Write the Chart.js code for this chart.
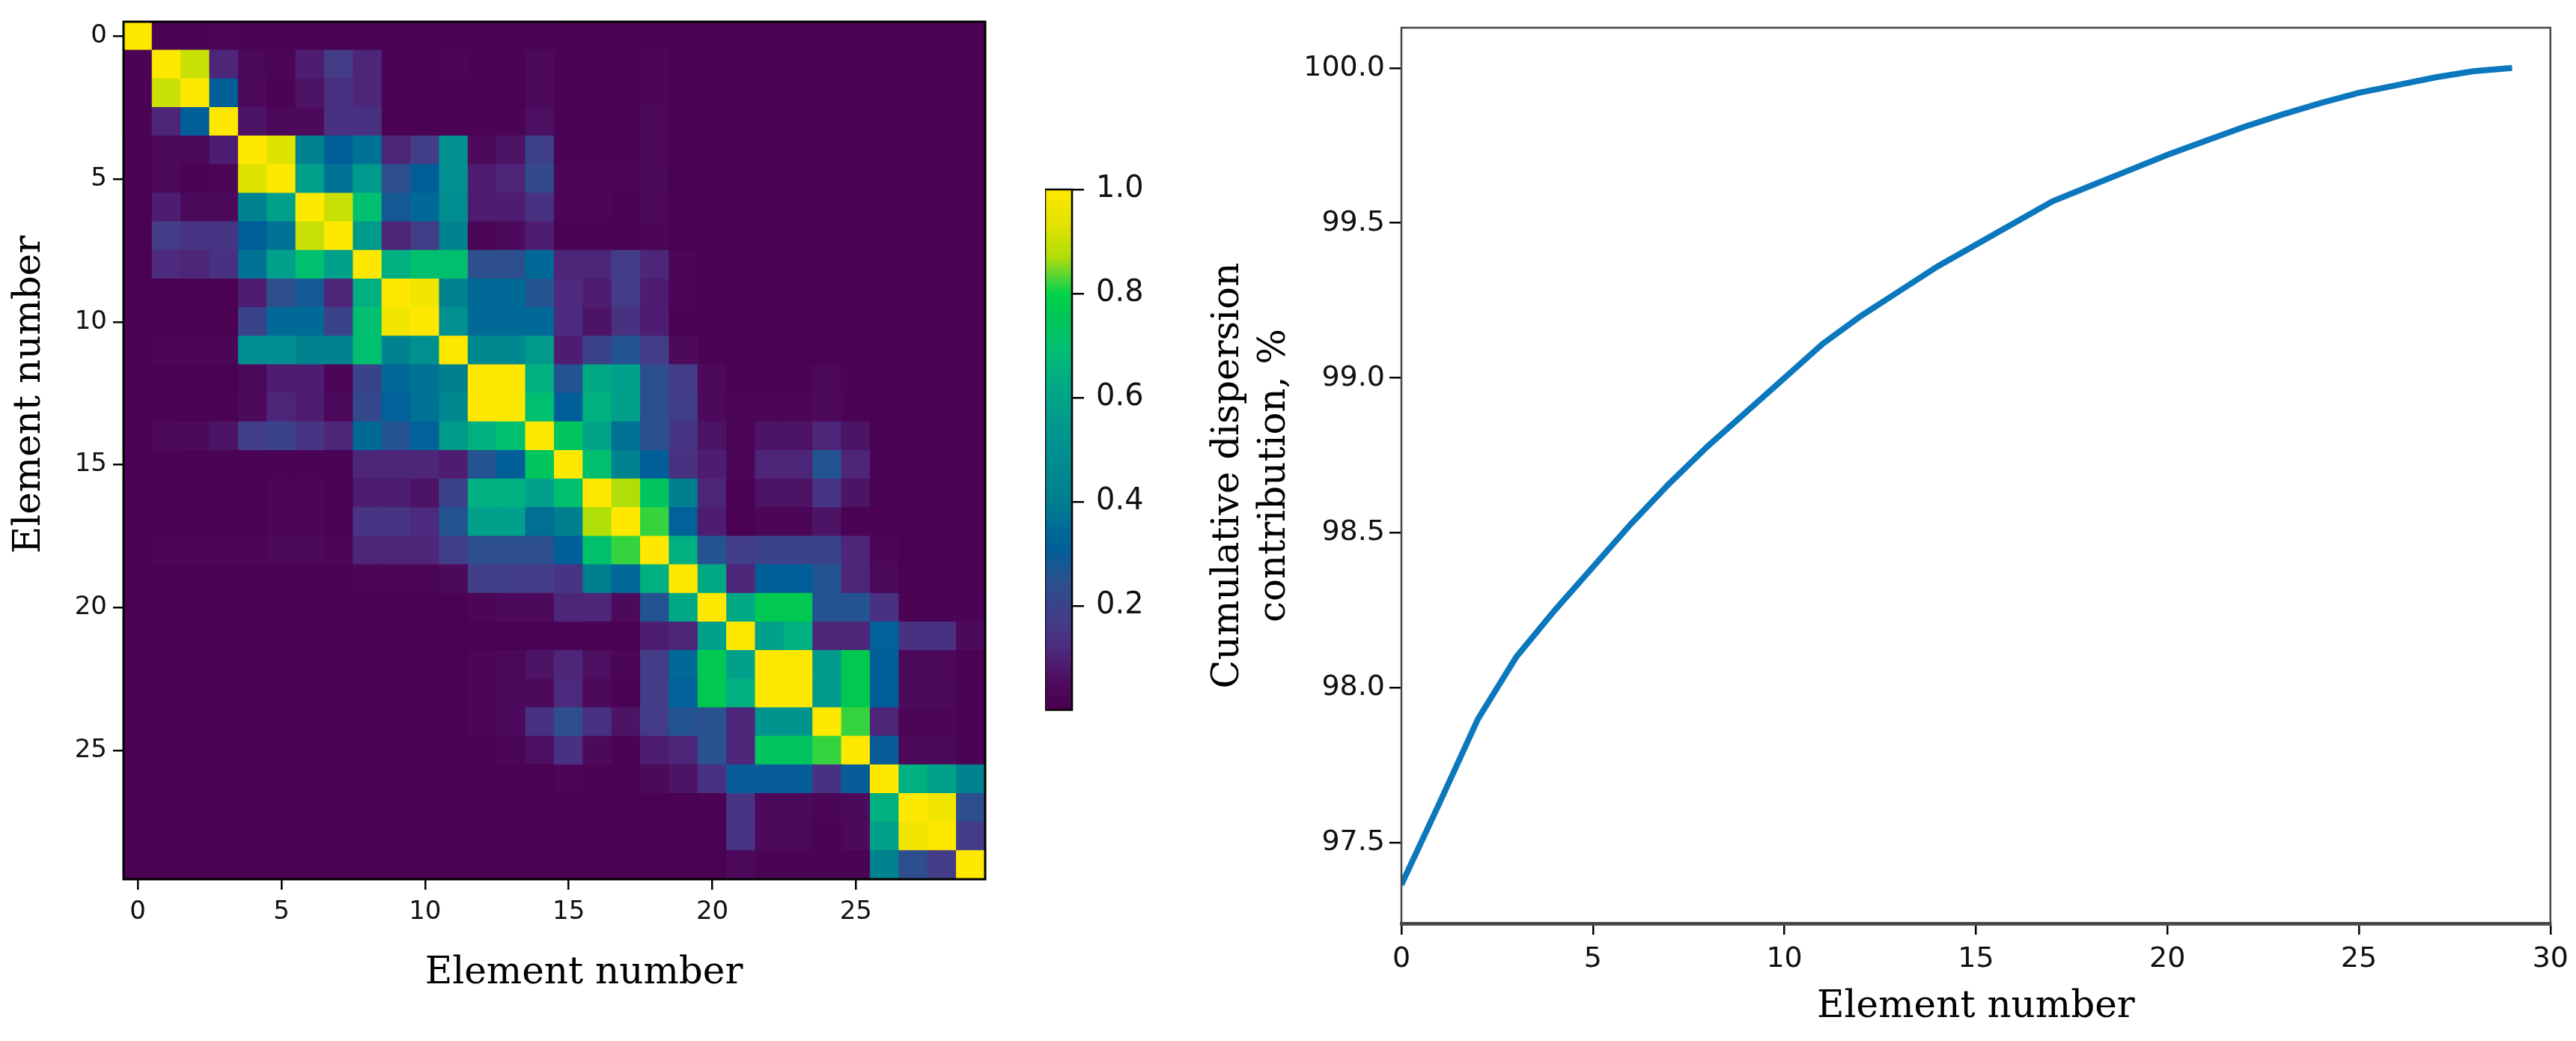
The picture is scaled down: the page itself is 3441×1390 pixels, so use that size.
<!DOCTYPE html>
<html>
<head>
<meta charset="utf-8">
<title>Correlation heatmap and cumulative dispersion</title>
<script src="https://cdn.jsdelivr.net/npm/chart.js@4.4.1/dist/chart.umd.min.js"></script>
<style>
  html, body { margin: 0; padding: 0; background: #fff; }
  body { width: 3441px; height: 1390px; position: relative; overflow: hidden; }
  .box { position: absolute; }
  #heatBox { left: 0; top: 0; width: 1330px; height: 1390px; }
  #barBox { left: 1396px; top: 213px; width: 200px; height: 775px; }
  #lineBox { left: 1600px; top: 0; width: 1841px; height: 1390px; }
</style>
</head>
<body>
<div class="box" id="heatBox"><canvas id="heatmap"></canvas></div>
<div class="box" id="barBox"><canvas id="colorbar"></canvas></div>
<div class="box" id="lineBox"><canvas id="cumulative"></canvas></div>
<script>
// element numbers (rows / columns of the matrix, x of the curve)
const elementIdx = [0, 1, 2, 3, 4, 5, 6, 7, 8, 9, 10, 11, 12, 13, 14, 15, 16, 17, 18, 19,
                    20, 21, 22, 23, 24, 25, 26, 27, 28, 29];

// correlation matrix, one row per element
const corr = [
  [1, .02, .02, .03, .02, .02, .02, .02, .02, .02, .02, .02, .02, .02, .02, .01, .01, .01, .01, .01, .01, .01, .01, .01, .01, .01, .01, .01, .01, .01],
  [.02, 1, .9, .11, .04, .03, .09, .17, .11, .02, .02, .03, .02, .02, .04, .02, .01, .01, .03, .01, .01, .01, .01, .01, .01, .01, .01, .01, .01, .01],
  [.02, .9, 1, .31, .04, .02, .07, .14, .11, .02, .02, .02, .01, .01, .04, .02, .01, .01, .03, .01, .01, .01, .01, .01, .01, .01, .01, .01, .01, .01],
  [.02, .11, .31, 1, .07, .04, .05, .14, .14, .02, .02, .02, .02, .02, .06, .02, .01, .01, .04, .01, .01, .01, .01, .01, .01, .01, .01, .01, .01, .01],
  [.01, .04, .04, .09, 1, .93, .42, .31, .37, .11, .18, .5, .05, .07, .19, .02, .02, .02, .04, .01, .01, .01, .01, .01, .01, .01, .01, .01, .01, .01],
  [.01, .04, .02, .03, .93, 1, .58, .37, .55, .24, .31, .5, .09, .11, .22, .03, .03, .03, .05, .01, .01, .01, .01, .01, .01, .01, .01, .01, .01, .01],
  [.01, .09, .04, .04, .42, .58, 1, .9, .7, .28, .34, .48, .09, .09, .14, .03, .03, .02, .04, .01, .01, .01, .01, .01, .01, .01, .01, .01, .01, .01],
  [.01, .17, .15, .15, .31, .37, .9, 1, .55, .11, .18, .42, .03, .05, .09, .02, .02, .01, .03, .01, .01, .01, .01, .01, .01, .01, .01, .01, .01, .01],
  [.01, .12, .11, .14, .37, .58, .7, .58, 1, .65, .7, .7, .24, .24, .34, .11, .11, .17, .11, .03, .01, .01, .01, .01, .01, .01, .01, .01, .01, .01],
  [.01, .01, .01, .01, .09, .24, .28, .11, .65, 1, .97, .42, .34, .34, .26, .12, .09, .17, .09, .03, .01, .01, .01, .01, .01, .01, .01, .01, .01, .01],
  [.01, .01, .01, .01, .2, .34, .34, .2, .7, .97, 1, .5, .34, .34, .34, .12, .07, .14, .09, .02, .01, .01, .01, .01, .01, .01, .01, .01, .01, .01],
  [.01, .03, .03, .03, .48, .48, .42, .42, .7, .42, .5, 1, .45, .45, .55, .09, .2, .26, .17, .05, .02, .01, .01, .01, .01, .01, .01, .01, .01, .01],
  [.01, .01, .01, .01, .04, .09, .09, .03, .2, .34, .37, .4, 1, 1, .65, .26, .62, .58, .24, .17, .05, .02, .02, .02, .04, .02, .01, .01, .01, .01],
  [.01, .01, .01, .01, .05, .11, .09, .04, .22, .32, .37, .45, 1, 1, .7, .31, .65, .58, .24, .18, .05, .03, .03, .03, .05, .02, .01, .01, .01, .01],
  [.01, .04, .05, .07, .18, .2, .15, .11, .34, .26, .32, .55, .65, .7, 1, .74, .6, .37, .24, .15, .07, .03, .07, .07, .11, .07, .02, .01, .01, .01],
  [.02, .02, .02, .02, .02, .02, .02, .02, .11, .11, .11, .09, .26, .31, .74, 1, .7, .42, .31, .14, .09, .03, .11, .11, .26, .11, .02, .01, .01, .01],
  [.01, .01, .01, .01, .01, .03, .03, .01, .09, .09, .07, .2, .65, .65, .58, .7, 1, .87, .74, .4, .11, .01, .07, .07, .15, .07, .02, .01, .01, .01],
  [.01, .01, .01, .01, .01, .03, .03, .02, .15, .15, .12, .26, .58, .58, .36, .4, .87, 1, .82, .32, .09, .01, .03, .03, .07, .02, .01, .01, .01, .01],
  [.01, .03, .03, .03, .03, .04, .05, .03, .11, .11, .11, .18, .24, .24, .24, .31, .71, .82, 1, .65, .26, .18, .2, .2, .2, .11, .03, .01, .01, .01],
  [.01, .01, .01, .01, .01, .01, .01, .01, .03, .03, .03, .05, .18, .18, .17, .15, .4, .34, .65, 1, .62, .11, .31, .31, .26, .11, .04, .01, .01, .01],
  [.01, .01, .01, .01, .01, .01, .01, .01, .01, .01, .01, .01, .03, .05, .05, .11, .11, .05, .26, .62, 1, .62, .77, .77, .26, .26, .14, .02, .02, .02],
  [.01, .01, .01, .01, .01, .01, .01, .01, .01, .01, .01, .01, .01, .01, .01, .02, .01, .01, .09, .11, .58, 1, .58, .65, .11, .11, .32, .14, .14, .04],
  [.01, .01, .01, .01, .01, .01, .01, .01, .01, .01, .01, .01, .03, .04, .07, .11, .06, .03, .17, .34, .77, .58, 1, 1, .55, .77, .31, .04, .04, .01],
  [.01, .01, .01, .01, .01, .01, .01, .01, .01, .01, .01, .01, .03, .04, .05, .12, .04, .02, .17, .32, .77, .65, 1, 1, .55, .77, .31, .05, .05, .02],
  [.01, .01, .01, .01, .01, .01, .01, .01, .01, .01, .01, .01, .03, .05, .14, .24, .14, .07, .17, .26, .25, .11, .52, .52, 1, .82, .11, .03, .03, .02],
  [.01, .01, .01, .01, .01, .01, .01, .01, .01, .01, .01, .01, .02, .03, .06, .14, .05, .02, .09, .11, .25, .11, .74, .74, .82, 1, .3, .04, .04, .02],
  [.01, .01, .01, .01, .01, .01, .01, .01, .01, .01, .01, .01, .01, .01, .01, .03, .02, .02, .05, .07, .14, .3, .3, .3, .14, .3, 1, .65, .58, .42],
  [.01, .01, .01, .01, .01, .01, .01, .01, .01, .01, .01, .01, .01, .01, .01, .01, .01, .01, .01, .01, .02, .15, .04, .04, .03, .05, .65, 1, .97, .24],
  [.01, .01, .01, .01, .01, .01, .01, .01, .01, .01, .01, .01, .01, .01, .01, .01, .01, .01, .01, .01, .02, .15, .04, .04, .02, .05, .58, .97, 1, .17],
  [.01, .01, .01, .01, .01, .01, .01, .01, .01, .01, .01, .01, .01, .01, .01, .01, .01, .01, .01, .01, .01, .04, .02, .02, .02, .02, .42, .24, .17, 1]
];

// cumulative dispersion contribution, %
const cumulative = [97.365, 97.63, 97.9, 98.1, 98.25, 98.39, 98.53, 98.66, 98.78, 98.89,
                    99.0, 99.11, 99.2, 99.28, 99.36, 99.43, 99.5, 99.57, 99.62, 99.67,
                    99.72, 99.765, 99.81, 99.85, 99.887, 99.92, 99.945, 99.97, 99.99, 100.0];

// ticks and ranges
const heatTicks = [0, 5, 10, 15, 20, 25];
const colorRange = [0, 1];
const colorbarTicks = [0.2, 0.4, 0.6, 0.8, 1.0];
const cumXTicks = [0, 5, 10, 15, 20, 25, 30];
const cumYTicks = [97.5, 98.0, 98.5, 99.0, 99.5, 100.0];
const cumYRange = [97.24, 100.13];

// colour scale as it looks in the picture's colorbar
const cmapStops = [
  [0, '#4a0050'], [0.05, '#4d0a5c'], [0.1, '#4e2276'], [0.12, '#4c2a7e'], [0.17, '#443c86'],
  [0.2, '#3a428a'], [0.25, '#2a528f'], [0.31, '#005f99'], [0.36, '#006f95'], [0.4, '#007f8f'],
  [0.5, '#009090'], [0.58, '#00a08a'], [0.65, '#00b080'], [0.7, '#00c070'], [0.77, '#00c850'],
  [0.8, '#00d44a'], [0.83, '#50d438'], [0.87, '#b0de08'], [0.93, '#e0e200'], [1, '#ffe800']
];

function hexRgb(h) {
  return [parseInt(h.slice(1, 3), 16), parseInt(h.slice(3, 5), 16), parseInt(h.slice(5, 7), 16)];
}

function colormap(v) {
  v = Math.max(0, Math.min(1, v));
  for (let i = 1; i < cmapStops.length; i++) {
    const [p1, c1] = cmapStops[i];
    if (v <= p1) {
      const [p0, c0] = cmapStops[i - 1];
      const t = (v - p0) / (p1 - p0);
      const a = hexRgb(c0), b = hexRgb(c1);
      return 'rgb(' + a.map((x, k) => Math.round(x + (b[k] - x) * t)).join(',') + ')';
    }
  }
  return cmapStops[cmapStops.length - 1][1];
}

// box round the plot area
const framePlugin = {
  id: 'frame',
  afterDraw(chart, args, opts) {
    const { ctx, chartArea: a } = chart;
    ctx.save();
    ctx.strokeStyle = opts.color;
    ctx.lineWidth = opts.width;
    ctx.strokeRect(a.left, a.top, a.right - a.left, a.bottom - a.top);
    ctx.restore();
  }
};

// axis titles of the heatmap sit a little off the axis centre in the picture
const looseTitles = {
  id: 'looseTitles',
  afterDraw(chart, args, opts) {
    const ctx = chart.ctx;
    (opts.items || []).forEach(t => {
      ctx.save();
      ctx.translate(t.x, t.y);
      ctx.rotate(t.rotation || 0);
      ctx.font = t.font;
      ctx.fillStyle = '#000';
      ctx.textAlign = 'center';
      ctx.textBaseline = 'middle';
      ctx.fillText(t.text, 0, 0);
      ctx.restore();
    });
  }
};

const sans = "'DejaVu Sans', sans-serif";
const serif = "'DejaVu Serif', serif";

// ---- heatmap ----
const cells = [];
corr.forEach((row, r) => {
  row.forEach((v, c) => {
    cells.push({ x: elementIdx[c], y: [elementIdx[r] - 0.5, elementIdx[r] + 0.5], v: v });
  });
});

new Chart(document.getElementById('heatmap'), {
  type: 'bar',
  data: {
    datasets: [{
      data: cells,
      backgroundColor: ctx => colormap(ctx.raw.v),
      borderWidth: 0,
      inflateAmount: 0.6,
      barPercentage: 1,
      categoryPercentage: 1
    }]
  },
  plugins: [framePlugin, looseTitles],
  options: {
    responsive: true,
    maintainAspectRatio: false,
    animation: false,
    events: [],
    layout: { padding: { top: 29, right: 14, left: 0, bottom: 0 } },
    plugins: {
      legend: { display: false },
      tooltip: { enabled: false },
      frame: { color: '#000', width: 3 },
      looseTitles: {
        items: [
          { text: 'Element number', x: 780, y: 1300, font: '50px ' + serif },
          { text: 'Element number', x: 40, y: 527, rotation: -Math.PI / 2, font: '50px ' + serif }
        ]
      }
    },
    scales: {
      x: {
        type: 'linear',
        min: -0.5,
        max: 29.5,
        bounds: 'data',
        offset: false,
        afterBuildTicks: s => { s.ticks = heatTicks.map(v => ({ value: v })); },
        afterFit: s => { s.height = 216; },
        grid: { display: true, offset: false, drawOnChartArea: false, drawTicks: true, tickLength: 14, color: '#000', lineWidth: 2.5 },
        border: { display: false },
        ticks: { font: { family: sans, size: 34 }, color: '#111', padding: 10, maxRotation: 0, autoSkip: false }
      },
      y: {
        type: 'linear',
        min: -0.5,
        max: 29.5,
        bounds: 'data',
        reverse: true,
        afterBuildTicks: s => { s.ticks = heatTicks.map(v => ({ value: v })); },
        afterFit: s => { s.width = 165; },
        grid: { display: true, offset: false, drawOnChartArea: false, drawTicks: true, tickLength: 14, color: '#000', lineWidth: 2.5 },
        border: { display: false },
        ticks: { font: { family: sans, size: 34 }, color: '#111', padding: 8, autoSkip: false }
      }
    }
  }
});

// ---- colorbar ----
new Chart(document.getElementById('colorbar'), {
  type: 'bar',
  data: {
    labels: ['scale'],
    datasets: [{
      data: [colorRange],
      backgroundColor: ctx => {
        const a = ctx.chart.chartArea;
        if (!a) return cmapStops[0][1];
        const g = ctx.chart.ctx.createLinearGradient(0, a.bottom, 0, a.top);
        cmapStops.forEach(([p, col]) => g.addColorStop(p, col));
        return g;
      },
      borderWidth: 0,
      barPercentage: 1,
      categoryPercentage: 1
    }]
  },
  plugins: [framePlugin],
  options: {
    responsive: true,
    maintainAspectRatio: false,
    animation: false,
    events: [],
    layout: { padding: 0 },
    plugins: {
      legend: { display: false },
      tooltip: { enabled: false },
      frame: { color: '#000', width: 2.5 }
    },
    scales: {
      x: { display: false },
      y: {
        position: 'right',
        min: colorRange[0],
        max: colorRange[1],
        bounds: 'data',
        afterBuildTicks: s => { s.ticks = colorbarTicks.map(v => ({ value: v })); },
        afterFit: s => { s.width = 164; },
        grid: { display: true, drawOnChartArea: false, drawTicks: true, tickLength: 16, color: '#000', lineWidth: 2.5 },
        border: { display: false },
        ticks: { font: { family: sans, size: 40 }, color: '#111', padding: 16,
                 callback: v => v.toFixed(1) }
      }
    }
  }
});

// ---- cumulative dispersion curve ----
new Chart(document.getElementById('cumulative'), {
  type: 'line',
  data: {
    datasets: [{
      data: elementIdx.map((x, i) => ({ x: x, y: cumulative[i] })),
      borderColor: '#0b78bd',
      borderWidth: 8,
      pointRadius: 0,
      tension: 0,
      fill: false
    }]
  },
  plugins: [framePlugin],
  options: {
    responsive: true,
    maintainAspectRatio: false,
    animation: false,
    events: [],
    layout: { padding: { top: 37, right: 31, left: 0, bottom: 0 } },
    plugins: {
      legend: { display: false },
      tooltip: { enabled: false },
      frame: { color: '#444', width: 2.5 }
    },
    scales: {
      x: {
        type: 'linear',
        min: cumXTicks[0],
        max: cumXTicks[cumXTicks.length - 1],
        bounds: 'data',
        afterBuildTicks: s => { s.ticks = cumXTicks.map(v => ({ value: v })); },
        afterFit: s => { s.height = 157; },
        grid: { display: true, drawOnChartArea: false, drawTicks: true, tickLength: 15, color: '#000', lineWidth: 2.5 },
        border: { display: true, color: '#555', width: 5 },
        ticks: { font: { family: sans, size: 38 }, color: '#111', padding: 10, maxRotation: 0, autoSkip: false },
        title: { display: true, text: 'Element number', color: '#000',
                 font: { family: serif, size: 50, lineHeight: 1.2 }, padding: { top: 0, bottom: 15 } }
      },
      y: {
        type: 'linear',
        min: cumYRange[0],
        max: cumYRange[1],
        bounds: 'data',
        afterBuildTicks: s => { s.ticks = cumYTicks.map(v => ({ value: v })); },
        afterFit: s => { s.width = 272; },
        grid: { display: true, drawOnChartArea: false, drawTicks: true, tickLength: 16, color: '#000', lineWidth: 2.5 },
        border: { display: false },
        ticks: { font: { family: sans, size: 38 }, color: '#111', padding: 6, autoSkip: false,
                 callback: v => v.toFixed(1) },
        title: { display: true, text: ['Cumulative dispersion', 'contribution, %'], color: '#000',
                 font: { family: serif, size: 50, lineHeight: 1.24 }, padding: { top: 10, bottom: 0 } }
      }
    }
  }
});
</script>
</body>
</html>
